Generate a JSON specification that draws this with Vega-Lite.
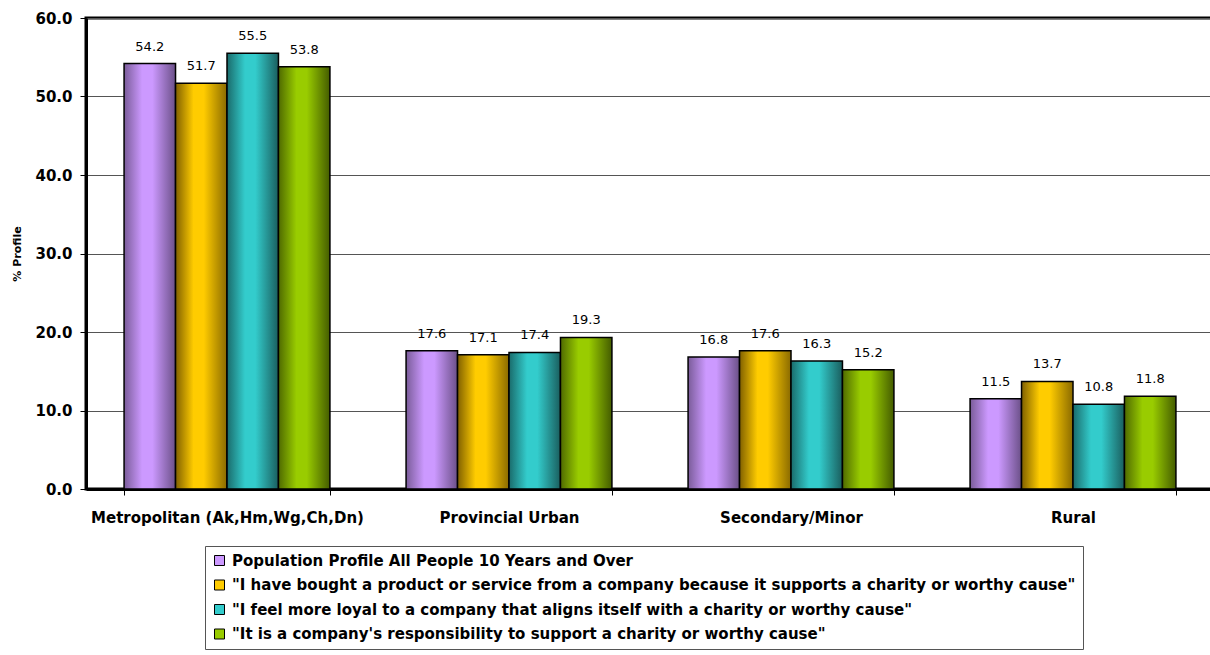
{
  "$schema": "https://vega.github.io/schema/vega-lite/v6.json",
  "width": 1128,
  "height": 471,
  "autosize": {"type": "none"},
  "padding": {"left": 86, "top": 18, "right": 0, "bottom": 166},
  "background": "white",
  "config": {
    "font": "DejaVu Sans",
    "view": {"stroke": "black", "strokeWidth": 3}
  },
  "data": {
    "values": [
      {"region": "Metropolitan (Ak,Hm,Wg,Ch,Dn)", "series": "Population Profile All People 10 Years and Over", "value": 54.2},
      {"region": "Metropolitan (Ak,Hm,Wg,Ch,Dn)", "series": "\"I have bought a product or service from a company because it supports a charity or worthy cause\"", "value": 51.7},
      {"region": "Metropolitan (Ak,Hm,Wg,Ch,Dn)", "series": "\"I feel more loyal to a company that aligns itself with a charity or worthy cause\"", "value": 55.5},
      {"region": "Metropolitan (Ak,Hm,Wg,Ch,Dn)", "series": "\"It is a company's responsibility to support a charity or worthy cause\"", "value": 53.8},
      {"region": "Provincial Urban", "series": "Population Profile All People 10 Years and Over", "value": 17.6},
      {"region": "Provincial Urban", "series": "\"I have bought a product or service from a company because it supports a charity or worthy cause\"", "value": 17.1},
      {"region": "Provincial Urban", "series": "\"I feel more loyal to a company that aligns itself with a charity or worthy cause\"", "value": 17.4},
      {"region": "Provincial Urban", "series": "\"It is a company's responsibility to support a charity or worthy cause\"", "value": 19.3},
      {"region": "Secondary/Minor", "series": "Population Profile All People 10 Years and Over", "value": 16.8},
      {"region": "Secondary/Minor", "series": "\"I have bought a product or service from a company because it supports a charity or worthy cause\"", "value": 17.6},
      {"region": "Secondary/Minor", "series": "\"I feel more loyal to a company that aligns itself with a charity or worthy cause\"", "value": 16.3},
      {"region": "Secondary/Minor", "series": "\"It is a company's responsibility to support a charity or worthy cause\"", "value": 15.2},
      {"region": "Rural", "series": "Population Profile All People 10 Years and Over", "value": 11.5},
      {"region": "Rural", "series": "\"I have bought a product or service from a company because it supports a charity or worthy cause\"", "value": 13.7},
      {"region": "Rural", "series": "\"I feel more loyal to a company that aligns itself with a charity or worthy cause\"", "value": 10.8},
      {"region": "Rural", "series": "\"It is a company's responsibility to support a charity or worthy cause\"", "value": 11.8}
    ]
  },
  "encoding": {
    "x": {
      "field": "region", "type": "nominal", "sort": null,
      "scale": {"paddingInner": 0.27, "paddingOuter": 0.135},
      "axis": {
        "title": null, "labelAngle": 0, "labelFontSize": 15, "labelFontWeight": "bold",
        "labelColor": "black", "labelPadding": 15, "tickBand": "extent", "tickSize": 6,
        "tickColor": "black", "domainColor": "black", "domainWidth": 3, "labelLimit": 400
      }
    },
    "xOffset": {"field": "series", "type": "nominal", "sort": null},
    "y": {
      "field": "value", "type": "quantitative",
      "scale": {"domain": [0, 60]},
      "axis": {
        "title": "% Profile", "titleFontSize": 11, "titleFontWeight": "bold", "titleColor": "black",
        "titlePadding": 12, "values": [0, 10, 20, 30, 40, 50, 60], "format": ".1f",
        "labelFontSize": 15, "labelFontWeight": "bold", "labelColor": "black", "labelPadding": 8,
        "tickSize": 6, "tickColor": "black", "domainColor": "black", "domainWidth": 3,
        "grid": true, "gridColor": "#555555", "gridWidth": 1
      }
    }
  },
  "layer": [
    {
      "mark": {"type": "bar", "opacity": 0},
      "encoding": {
        "color": {
          "field": "series", "type": "nominal", "sort": null,
          "scale": {"range": ["#CC99FF", "#FFCC00", "#33CCCC", "#99CC00"]},
          "legend": {
            "title": null, "orient": "none", "legendX": 119, "legendY": 528,
            "direction": "vertical", "columns": 1,
            "symbolType": "square", "symbolSize": 100, "symbolStrokeColor": "black", "symbolStrokeWidth": 1,
            "symbolOpacity": 1,
            "labelFontSize": 15, "labelFontWeight": "bold", "labelColor": "black", "labelLimit": 1000,
            "rowPadding": 8.5, "padding": 7, "strokeColor": "#555555", "fillColor": "white",
            "labelOffset": 5
          }
        }
      }
    },
    {
      "mark": {"type": "bar", "stroke": "black", "strokeWidth": 1.5},
      "encoding": {
        "fill": {
          "condition": [
            {"test": "indexof(datum.series, 'Population') >= 0", "value": {"gradient": "linear", "x1": 0, "y1": 0, "x2": 1, "y2": 0, "stops": [
              {"offset": 0, "color": "#7a5c99"}, {"offset": 0.35, "color": "#CC99FF"}, {"offset": 0.55, "color": "#CC99FF"}, {"offset": 1, "color": "#6b5088"}]}},
            {"test": "indexof(datum.series, 'bought') >= 0", "value": {"gradient": "linear", "x1": 0, "y1": 0, "x2": 1, "y2": 0, "stops": [
              {"offset": 0, "color": "#806000"}, {"offset": 0.35, "color": "#FFCC00"}, {"offset": 0.55, "color": "#FFCC00"}, {"offset": 1, "color": "#8a6a00"}]}},
            {"test": "indexof(datum.series, 'loyal') >= 0", "value": {"gradient": "linear", "x1": 0, "y1": 0, "x2": 1, "y2": 0, "stops": [
              {"offset": 0, "color": "#1a6b6b"}, {"offset": 0.35, "color": "#33CCCC"}, {"offset": 0.55, "color": "#33CCCC"}, {"offset": 1, "color": "#1a5e5e"}]}}
          ],
          "value": {"gradient": "linear", "x1": 0, "y1": 0, "x2": 1, "y2": 0, "stops": [
            {"offset": 0, "color": "#4f6a00"}, {"offset": 0.35, "color": "#99CC00"}, {"offset": 0.55, "color": "#99CC00"}, {"offset": 1, "color": "#445c00"}]}
        }
      }
    },
    {
      "mark": {"type": "text", "dy": -17, "fontSize": 13, "color": "black"},
      "encoding": {
        "text": {"field": "value", "type": "quantitative", "format": ".1f"}
      }
    }
  ]
}
